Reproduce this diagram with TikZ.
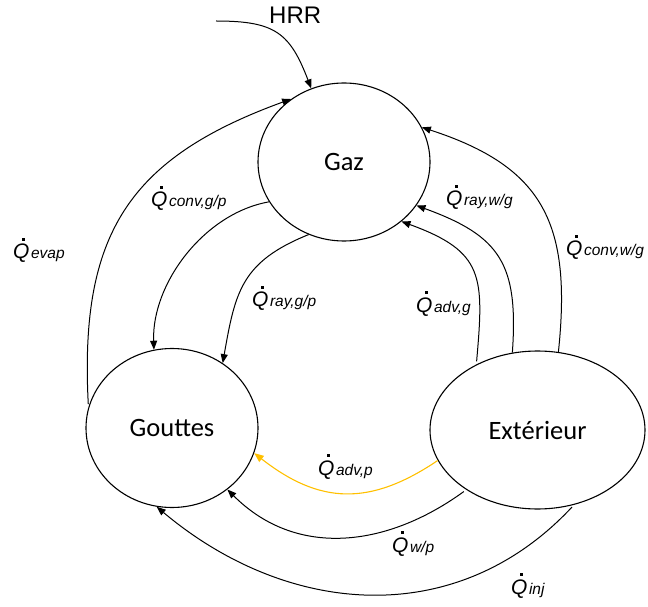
\documentclass[tikz,border=0pt]{standalone}
\usepackage{fontspec}
\setmainfont{Liberation Sans}
\newfontfamily\statefont{Carlito}
\usetikzlibrary{arrows.meta,shapes.geometric}
\definecolor{Ink}{HTML}{000000}
\definecolor{Amber}{HTML}{FFC000}
\newcommand{\qflux}[1]{\itshape\makebox[0pt][l]{\hspace{0.42em}\raisebox{0.88em}{\rule{2.5pt}{2.5pt}}}Q\hspace{1.5pt}{\fontsize{15.5}{15.5}\selectfont #1}}
\tikzset{
  state/.style={
    ellipse, draw=Ink, line width=1.1pt, inner sep=0pt,
    font=\statefont\fontsize{26.5}{30}\selectfont
  },
  fluxtext/.style={
    anchor=base west, inner sep=0pt, font=\fontsize{21}{21}\selectfont
  },
  flow/.style={-{Triangle[length=9pt,width=7pt]}, line width=1pt, draw=Ink},
  accentflow/.style={-{Triangle[length=9.5pt,width=7.5pt]}, line width=1.1pt, draw=Amber}
}
\begin{document}
\begin{tikzpicture}[x=1pt,y=1pt]
  \useasboundingbox (0,0) rectangle (648,606);
  \node[state,minimum width=172pt,minimum height=158pt] (gaz) at (344,444) {Gaz};
  \node[state,minimum width=172pt,minimum height=159pt] (gouttes) at (172,178) {Gouttes};
  \node[state,minimum width=215pt,minimum height=158pt] (ext) at (537.5,176) {Extérieur};
  \coordinate (hrrin) at (216,585);
  \node[fluxtext,font=\fontsize{24}{24}\selectfont] (hrr) at (269,582) {HRR};
  \node[fluxtext] (qevap) at (13,347) {\qflux{evap}};
  \node[fluxtext] (qconvgp) at (151,399) {\qflux{conv,g/p}};
  \node[fluxtext] (qraygp) at (252,299) {\qflux{ray,g/p}};
  \node[fluxtext] (qraywg) at (446,400) {\qflux{ray,w/g}};
  \node[fluxtext] (qconvwg) at (566,350) {\qflux{conv,w/g}};
  \node[fluxtext] (qadvg) at (416,294) {\qflux{adv,g}};
  \node[fluxtext] (qadvp) at (318,131) {\qflux{adv,p}};
  \node[fluxtext] (qwp) at (392,54) {\qflux{w/p}};
  \node[fluxtext] (qinj) at (511,12) {\qflux{inj}};
  \draw[flow] (hrrin) to[out=0,in=111,looseness=1.3] (gaz.114);
  \draw[flow,shorten <=3pt] (gouttes.166) to[out=93,in=200,looseness=1.2] (gaz.130);
  \draw[flow] (gaz.208) to[out=190,in=92,looseness=0.9] (gouttes.103);
  \draw[flow] (gaz.244) to[out=202,in=80,looseness=1.2] (gouttes.52);
  \draw[flow,shorten <=3pt] (ext.133) to[out=85,in=-20,looseness=1.4] (gaz.314);
  \draw[flow] (ext.108) to[out=86,in=-20,looseness=1.3] (gaz.329);
  \draw[flow] (ext.75) to[out=84,in=-18,looseness=1.25] (gaz.24);
  \draw[accentflow] (ext.197) to[out=214,in=-38,looseness=1.15] (gouttes.343);
  \draw[flow,shorten <=3pt] (ext.220) to[out=216,in=-45,looseness=1.05] (gouttes.312);
  \draw[flow,shorten <=3pt] (ext.296) to[out=227,in=-40,looseness=1.05] (gouttes.259);
\end{tikzpicture}
\end{document}
